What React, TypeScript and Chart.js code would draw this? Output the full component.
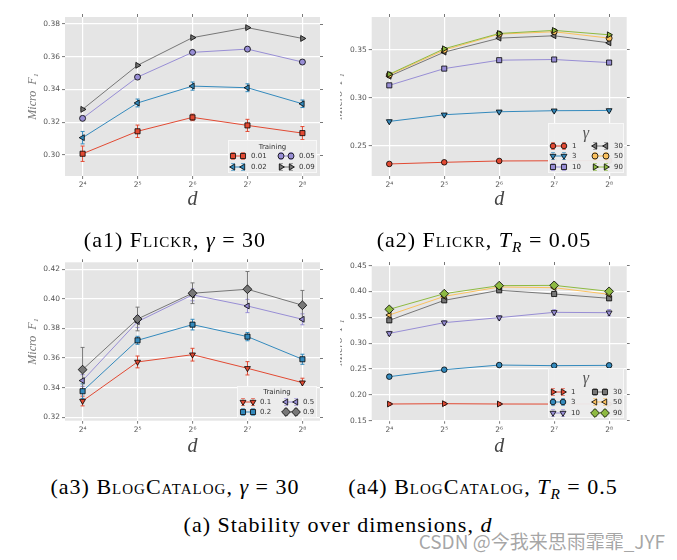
import React, { useEffect, useRef } from 'react';
import { Chart, registerables } from 'chart.js';
import { drawPoint } from 'chart.js/helpers';

Chart.register(...registerables);

// ---------------- data ----------------
const dimExponents = [4, 5, 6, 7, 8];
const xTickLabels = ['2⁴', '2⁵', '2⁶', '2⁷', '2⁸'];

// (a1) Flickr, gamma = 30
const a1TrainingLabels = ['0.01', '0.02', '0.05', '0.09'];
const a1Micro001 = [0.3008, 0.3145, 0.3230, 0.3181, 0.3134];
const a1Err001 = [0.0047, 0.0038, 0.0020, 0.0037, 0.0040];
const a1Micro002 = [0.3106, 0.3318, 0.3421, 0.3411, 0.3313];
const a1Err002 = [0.0038, 0.0024, 0.0025, 0.0024, 0.0023];
const a1Micro005 = [0.3224, 0.3476, 0.3627, 0.3647, 0.3568];
const a1Err005 = [0.0008, 0.0008, 0.0008, 0.0008, 0.0008];
const a1Micro009 = [0.3279, 0.3548, 0.3717, 0.3778, 0.3712];
const a1Err009 = [0.0005, 0.0005, 0.0005, 0.0005, 0.0005];
const a1YTicks = [0.30, 0.32, 0.34, 0.36, 0.38];
const a1YRange = [0.2872, 0.3843];

// (a2) Flickr, T_R = 0.05
const a2GammaLabels = ['1', '3', '10', '30', '50', '90'];
const a2Micro1 = [0.2308, 0.2325, 0.2339, 0.2341, 0.2343];
const a2Micro3 = [0.2752, 0.2822, 0.2853, 0.2864, 0.2867];
const a2Micro10 = [0.3129, 0.3304, 0.3392, 0.3399, 0.3367];
const a2Micro30 = [0.3224, 0.3476, 0.3622, 0.3647, 0.3573];
const a2Micro50 = [0.3238, 0.3497, 0.3664, 0.3689, 0.3622];
const a2Micro90 = [0.3245, 0.3511, 0.3671, 0.3703, 0.3657];
const a2Err = [0.0012, 0.0012, 0.0012, 0.0012, 0.0012];
const a2YTicks = [0.25, 0.30, 0.35];
const a2YRange = [0.2182, 0.3843];

// (a3) BlogCatalog, gamma = 30
const a3TrainingLabels = ['0.1', '0.2', '0.5', '0.9'];
const a3Micro01 = [0.3310, 0.3574, 0.3623, 0.3531, 0.3434];
const a3Err01 = [0.0033, 0.0040, 0.0043, 0.0045, 0.0030];
const a3Micro02 = [0.3376, 0.3720, 0.3826, 0.3745, 0.3592];
const a3Err02 = [0.0050, 0.0027, 0.0036, 0.0028, 0.0034];
const a3Micro05 = [0.3448, 0.3846, 0.4027, 0.3952, 0.3862];
const a3Err05 = [0.0040, 0.0040, 0.0040, 0.0045, 0.0037];
const a3Micro09 = [0.3522, 0.3864, 0.4038, 0.4065, 0.3957];
const a3Err09 = [0.0150, 0.0080, 0.0070, 0.0120, 0.0100];
const a3YTicks = [0.32, 0.34, 0.36, 0.38, 0.40, 0.42];
const a3YRange = [0.3177, 0.4247];

// (a4) BlogCatalog, T_R = 0.5
const a4GammaLabels = ['1', '3', '10', '30', '50', '90'];
const a4Micro1 = [0.1823, 0.1829, 0.1823, 0.1822, 0.1825];
const a4Micro3 = [0.2352, 0.2487, 0.2577, 0.2565, 0.2571];
const a4Micro10 = [0.3190, 0.3397, 0.3494, 0.3597, 0.3590];
const a4Micro30 = [0.3442, 0.3829, 0.4023, 0.3952, 0.3868];
const a4Micro50 = [0.3545, 0.3906, 0.4087, 0.4074, 0.3945];
const a4Micro90 = [0.3655, 0.3958, 0.4113, 0.4119, 0.4003];
const a4Err = [0.0030, 0.0030, 0.0030, 0.0030, 0.0030];
const a4Err10 = [0.0040, 0.0040, 0.0040, 0.0050, 0.0060];
const a4YTicks = [0.15, 0.20, 0.25, 0.30, 0.35, 0.40, 0.45];
const a4YRange = [0.15, 0.4513];

// ---------------- styles ----------------
const RED = '#E24A33';
const BLUE = '#348ABD';
const PURPLE = '#988ED5';
const GREY = '#777777';
const YELLOW = '#FBC15E';
const GREEN = '#8EBA42';
const SANS = '"DejaVu Sans", sans-serif';
const SERIF = '"Liberation Serif", "DejaVu Serif", serif';

const SQ = { shape: 'rect', rotation: 0, radius: 3.6 };
const CI = { shape: 'circle', rotation: 0, radius: 2.8 };
const TD = { shape: 'triangle', rotation: 180, radius: 3.4 };
const TL = { shape: 'triangle', rotation: -90, radius: 3.4 };
const TR = { shape: 'triangle', rotation: 90, radius: 3.4 };
const DI = { shape: 'rectRot', rotation: 0, radius: 4.4 };
const OC = { shape: 'circle', rotation: 0, radius: 3.0 };

const trainingLegend = (dims) => ({
  title: 'Training',
  titleFont: `7px ${SANS}`,
  titleColor: '#333',
  labelFont: `7px ${SANS}`,
  ...dims,
});
const gammaLegend = (dims) => ({
  title: 'γ',
  titleFont: `italic 16px ${SERIF}`,
  titleColor: '#555',
  labelFont: `7px ${SANS}`,
  ...dims,
});

const panels = [
  {
    key: 'a1',
    wrap: { left: 0, top: 0, width: 340, height: 215 },
    canvasLeft: 0,
    canvasWidth: 340,
    ca: { left: 65, top: 17, right: 320, bottom: 176 },
    padLeft: 26,
    xTitlePad: 3,
    yRange: a1YRange,
    yTicks: a1YTicks,
    series: [
      { label: a1TrainingLabels[0], color: RED, values: a1Micro001, errors: a1Err001, ...SQ },
      { label: a1TrainingLabels[1], color: BLUE, values: a1Micro002, errors: a1Err002, ...TL },
      { label: a1TrainingLabels[2], color: PURPLE, values: a1Micro005, errors: a1Err005, ...OC },
      { label: a1TrainingLabels[3], color: GREY, values: a1Micro009, errors: a1Err009, ...TR },
    ],
    legend: trainingLegend({ insetRight: 3, insetBottom: 3, width: 89, height: 33, titleDy: 7, rowDy: [16, 27], m1: 5, m2: 15, labelDx: 23, colDx: 48 }),
  },
  {
    key: 'a2',
    wrap: { left: 340, top: 0, width: 337, height: 215 },
    canvasLeft: -20,
    canvasWidth: 357,
    ca: { left: 371.7, top: 17, right: 626.7, bottom: 176 },
    padLeft: 12,
    xTitlePad: 3,
    yRange: a2YRange,
    yTicks: a2YTicks,
    series: [
      { label: a2GammaLabels[0], color: RED, values: a2Micro1, errors: a2Err, ...CI },
      { label: a2GammaLabels[1], color: BLUE, values: a2Micro3, errors: a2Err, ...TD },
      { label: a2GammaLabels[2], color: PURPLE, values: a2Micro10, errors: a2Err, ...SQ },
      { label: a2GammaLabels[3], color: GREY, values: a2Micro30, errors: a2Err, ...TL },
      { label: a2GammaLabels[4], color: YELLOW, values: a2Micro50, errors: a2Err, ...OC },
      { label: a2GammaLabels[5], color: GREEN, values: a2Micro90, errors: a2Err, ...TR },
    ],
    legend: gammaLegend({ insetRight: 2.7, insetBottom: 3, width: 76, height: 50, titleDy: 11, rowDy: [23, 33, 44], m1: 5, m2: 16, labelDx: 24, colDx: 42 }),
  },
  {
    key: 'a3',
    wrap: { left: 0, top: 245, width: 340, height: 215 },
    canvasLeft: 0,
    canvasWidth: 340,
    ca: { left: 65, top: 262.3, right: 320, bottom: 420.7 },
    padLeft: 26,
    xTitlePad: 1.3,
    yRange: a3YRange,
    yTicks: a3YTicks,
    series: [
      { label: a3TrainingLabels[0], color: RED, values: a3Micro01, errors: a3Err01, ...TD },
      { label: a3TrainingLabels[1], color: BLUE, values: a3Micro02, errors: a3Err02, ...SQ },
      { label: a3TrainingLabels[2], color: PURPLE, values: a3Micro05, errors: a3Err05, ...TL },
      { label: a3TrainingLabels[3], color: GREY, values: a3Micro09, errors: a3Err09, ...DI },
    ],
    legend: trainingLegend({ insetRight: 3, insetBottom: 2.7, width: 80, height: 32, titleDy: 6.5, rowDy: [16, 26], m1: 6, m2: 16, labelDx: 23, colDx: 43 }),
  },
  {
    key: 'a4',
    wrap: { left: 340, top: 245, width: 337, height: 215 },
    canvasLeft: -20,
    canvasWidth: 357,
    ca: { left: 371.7, top: 265, right: 626.7, bottom: 420.7 },
    padLeft: 12,
    xTitlePad: 1.3,
    yRange: a4YRange,
    yTicks: a4YTicks,
    series: [
      { label: a4GammaLabels[0], color: RED, values: a4Micro1, errors: a4Err, ...TR },
      { label: a4GammaLabels[1], color: BLUE, values: a4Micro3, errors: a4Err, ...CI },
      { label: a4GammaLabels[2], color: PURPLE, values: a4Micro10, errors: a4Err10, ...TD },
      { label: a4GammaLabels[3], color: GREY, values: a4Micro30, errors: a4Err, ...SQ },
      { label: a4GammaLabels[4], color: YELLOW, values: a4Micro50, errors: a4Err, ...TL },
      { label: a4GammaLabels[5], color: GREEN, values: a4Micro90, errors: a4Err, ...DI },
    ],
    legend: gammaLegend({ insetRight: 2.7, insetBottom: 2.7, width: 76, height: 50, titleDy: 11, rowDy: [24, 34, 45], m1: 5, m2: 15, labelDx: 23, colDx: 42 }),
  },
];

// ---------------- plugins ----------------
const backgroundPlugin = {
  id: 'ggBackground',
  beforeDraw(chart: any) {
    const { ctx, chartArea: a } = chart;
    ctx.save();
    ctx.fillStyle = '#E5E5E5';
    ctx.fillRect(a.left, a.top, a.right - a.left, a.bottom - a.top);
    ctx.restore();
  },
};

const errorBarPlugin = {
  id: 'errorBars',
  beforeDatasetsDraw(chart: any) {
    const { ctx, chartArea: a } = chart;
    const ys = chart.scales.y;
    ctx.save();
    ctx.beginPath();
    ctx.rect(a.left, a.top, a.right - a.left, a.bottom - a.top);
    ctx.clip();
    chart.data.datasets.forEach((ds: any, i: number) => {
      const meta = chart.getDatasetMeta(i);
      ctx.strokeStyle = ds.borderColor;
      ctx.lineWidth = 1;
      meta.data.forEach((pt: any, j: number) => {
        const v = ds.data[j].y;
        const e = ds.errors[j];
        const yt = ys.getPixelForValue(v + e);
        const yb = ys.getPixelForValue(v - e);
        ctx.beginPath();
        ctx.moveTo(pt.x, yt);
        ctx.lineTo(pt.x, yb);
        ctx.moveTo(pt.x - 2, yt);
        ctx.lineTo(pt.x + 2, yt);
        ctx.moveTo(pt.x - 2, yb);
        ctx.lineTo(pt.x + 2, yb);
        ctx.stroke();
      });
    });
    ctx.restore();
  },
};

function makeLegendPlugin(lg: any, series: any[]) {
  return {
    id: 'insideLegend',
    afterDraw(chart: any) {
      const { ctx, chartArea: a } = chart;
      const x0 = a.right - lg.insetRight - lg.width;
      const y0 = a.bottom - lg.insetBottom - lg.height;
      ctx.save();
      ctx.fillStyle = 'rgba(236,236,236,0.95)';
      ctx.fillRect(x0, y0, lg.width, lg.height);
      ctx.strokeStyle = '#f8f8f8';
      ctx.lineWidth = 1;
      ctx.strokeRect(x0 + 0.5, y0 + 0.5, lg.width - 1, lg.height - 1);
      ctx.fillStyle = lg.titleColor;
      ctx.font = lg.titleFont;
      ctx.textAlign = 'center';
      ctx.textBaseline = 'middle';
      ctx.fillText(lg.title, x0 + lg.width / 2, y0 + lg.titleDy);
      const rows = Math.ceil(series.length / 2);
      series.forEach((s: any, i: number) => {
        const col = Math.floor(i / rows);
        const row = i % rows;
        const bx = x0 + col * lg.colDx;
        const y = y0 + lg.rowDy[row];
        const ms = [bx + lg.m1, bx + lg.m2];
        ctx.strokeStyle = s.color;
        ctx.lineWidth = 1;
        ctx.beginPath();
        ctx.moveTo(ms[0], y);
        ctx.lineTo(ms[1], y);
        ctx.stroke();
        ctx.globalAlpha = 0.6;
        ms.forEach((mx) => {
          ctx.beginPath();
          ctx.moveTo(mx, y - 3.5);
          ctx.lineTo(mx, y + 3.5);
          ctx.moveTo(mx - 2, y - 3.5);
          ctx.lineTo(mx + 2, y - 3.5);
          ctx.moveTo(mx - 2, y + 3.5);
          ctx.lineTo(mx + 2, y + 3.5);
          ctx.stroke();
        });
        ctx.globalAlpha = 1;
        ms.forEach((mx) => {
          ctx.fillStyle = s.color;
          ctx.strokeStyle = '#000';
          ctx.lineWidth = 0.8;
          drawPoint(ctx, { pointStyle: s.shape, rotation: s.rotation, radius: s.radius, borderWidth: 0.8 } as any, mx, y);
        });
        ctx.fillStyle = '#333';
        ctx.font = lg.labelFont;
        ctx.textAlign = 'left';
        ctx.textBaseline = 'middle';
        ctx.fillText(s.label, bx + lg.labelDx, y + 0.5);
      });
      ctx.restore();
    },
  };
}

function buildConfig(spec: any): any {
  const pageLeft = spec.wrap.left + spec.canvasLeft;
  const caL = spec.ca.left - pageLeft;
  const caR = spec.ca.right - pageLeft;
  const caT = spec.ca.top - spec.wrap.top;
  const caB = spec.ca.bottom - spec.wrap.top;
  const H = spec.wrap.height;
  const W = spec.canvasWidth;
  const n = spec.series.length;
  const fixX = (s: any) => {
    s.ticks = dimExponents.map((v) => ({ value: v }));
  };
  const fixY = (s: any) => {
    s.ticks = spec.yTicks.map((v: number) => ({ value: v }));
  };
  const tickFont = { family: SANS, size: 7.5 };
  const [ymin, ymax] = spec.yRange;
  return {
    type: 'line',
    data: {
      datasets: spec.series.map((s: any, i: number) => ({
        label: s.label,
        data: dimExponents.map((x, j) => ({ x, y: s.values[j] })),
        errors: s.errors,
        borderColor: s.color,
        backgroundColor: s.color,
        borderWidth: 1,
        pointStyle: s.shape,
        pointRotation: s.rotation,
        pointRadius: s.radius,
        pointBackgroundColor: s.color,
        pointBorderColor: '#000',
        pointBorderWidth: 0.8,
        tension: 0,
        fill: false,
        order: n - i,
      })),
    },
    options: {
      responsive: false,
      animation: false,
      events: [],
      layout: {
        padding: { left: spec.padLeft, top: caT - 4, right: W - caR - 4, bottom: 0 },
      },
      plugins: {
        legend: { display: false },
        tooltip: { enabled: false },
      },
      scales: {
        x: {
          type: 'linear',
          position: 'bottom',
          min: 3.68,
          max: 8.32,
          bounds: 'data',
          afterBuildTicks: fixX,
          grid: { color: '#ffffff', lineWidth: 1.2, tickColor: '#555', tickLength: 3, tickWidth: 0.8 },
          border: { display: false },
          ticks: {
            font: tickFont,
            color: '#555',
            padding: 2,
            maxRotation: 0,
            autoSkip: false,
            callback: (v: number) => xTickLabels[dimExponents.indexOf(v)],
          },
          title: {
            display: true,
            text: 'd',
            color: '#444',
            font: { family: SERIF, size: 20, style: 'italic' },
            padding: { top: 0, bottom: spec.xTitlePad },
          },
          afterFit: (s: any) => {
            s.height = H - caB;
          },
        },
        x2: {
          type: 'linear',
          position: 'top',
          min: 3.68,
          max: 8.32,
          bounds: 'data',
          afterBuildTicks: fixX,
          grid: { drawOnChartArea: false, tickColor: '#555', tickLength: 3, tickWidth: 0.8 },
          border: { display: false },
          ticks: { display: false },
          afterFit: (s: any) => {
            s.height = 4;
          },
        },
        y: {
          type: 'linear',
          position: 'left',
          min: ymin,
          max: ymax,
          bounds: 'data',
          afterBuildTicks: fixY,
          grid: { color: '#ffffff', lineWidth: 1.2, tickColor: '#555', tickLength: 3, tickWidth: 0.8 },
          border: { display: false },
          ticks: {
            font: tickFont,
            color: '#555',
            padding: 2,
            autoSkip: false,
            callback: (v: number) => Number(v).toFixed(2),
          },
          title: {
            display: true,
            text: 'Micro  F₁',
            color: '#777',
            font: { family: SERIF, size: 12, style: 'italic' },
            padding: 0,
          },
          afterFit: (s: any) => {
            s.width = caL - spec.padLeft;
          },
        },
        y2: {
          type: 'linear',
          position: 'right',
          min: ymin,
          max: ymax,
          bounds: 'data',
          afterBuildTicks: fixY,
          grid: { drawOnChartArea: false, tickColor: '#555', tickLength: 3, tickWidth: 0.8 },
          border: { display: false },
          ticks: { display: false },
          afterFit: (s: any) => {
            s.width = 4;
          },
        },
      },
    },
    plugins: [backgroundPlugin, errorBarPlugin, makeLegendPlugin(spec.legend, spec.series)],
  };
}

function Panel({ spec }: { spec: any }) {
  const ref = useRef<HTMLCanvasElement | null>(null);
  useEffect(() => {
    if (!ref.current) return;
    const chart = new Chart(ref.current, buildConfig(spec));
    return () => chart.destroy();
  }, [spec]);
  return (
    <div
      style={{
        position: 'absolute',
        left: spec.wrap.left,
        top: spec.wrap.top,
        width: spec.wrap.width,
        height: spec.wrap.height,
        overflow: 'hidden',
      }}
    >
      <canvas
        ref={ref}
        width={spec.canvasWidth}
        height={spec.wrap.height}
        style={{ position: 'absolute', left: spec.canvasLeft, top: 0, width: spec.canvasWidth, height: spec.wrap.height }}
      />
    </div>
  );
}

const SC: React.CSSProperties = { fontVariant: 'small-caps' };
const SUB: React.CSSProperties = { fontSize: '0.7em', fontStyle: 'italic', position: 'relative', top: '0.3em' };

function caption(cx: number, top: number): React.CSSProperties {
  return {
    position: 'absolute',
    left: cx - 220,
    width: 440,
    top,
    textAlign: 'center',
    fontFamily: SERIF,
    fontSize: 22,
    letterSpacing: '1px',
    lineHeight: '26px',
    color: '#000',
    whiteSpace: 'nowrap',
  };
}

export default function App() {
  return (
    <div style={{ position: 'absolute', left: 0, top: 0, width: 677, height: 560, background: '#fff', overflow: 'hidden' }}>
      {panels.map((p) => (
        <Panel key={p.key} spec={p} />
      ))}
      <div style={caption(175, 227)}>
        (a1) <span style={SC}>Flickr</span>, <i>γ</i> = 30
      </div>
      <div style={caption(484, 227)}>
        (a2) <span style={SC}>Flickr</span>, <i>T</i>
        <span style={SUB}>R</span> = 0.05
      </div>
      <div style={caption(175, 474)}>
        (a3) <span style={SC}>BlogCatalog</span>, <i>γ</i> = 30
      </div>
      <div style={caption(483, 474)}>
        (a4) <span style={SC}>BlogCatalog</span>, <i>T</i>
        <span style={SUB}>R</span> = 0.5
      </div>
      <div style={caption(338, 512)}>
        (a) Stability over dimensions, <i>d</i>
      </div>
      <div
        style={{
          position: 'absolute',
          right: 12,
          top: 530,
          fontFamily: '"Noto Sans CJK SC", "Noto Sans", sans-serif',
          fontSize: 19,
          lineHeight: '22px',
          color: 'rgba(150,150,150,0.85)',
          whiteSpace: 'nowrap',
        }}
      >
        CSDN @今我来思雨霏霏_JYF
      </div>
    </div>
  );
}
